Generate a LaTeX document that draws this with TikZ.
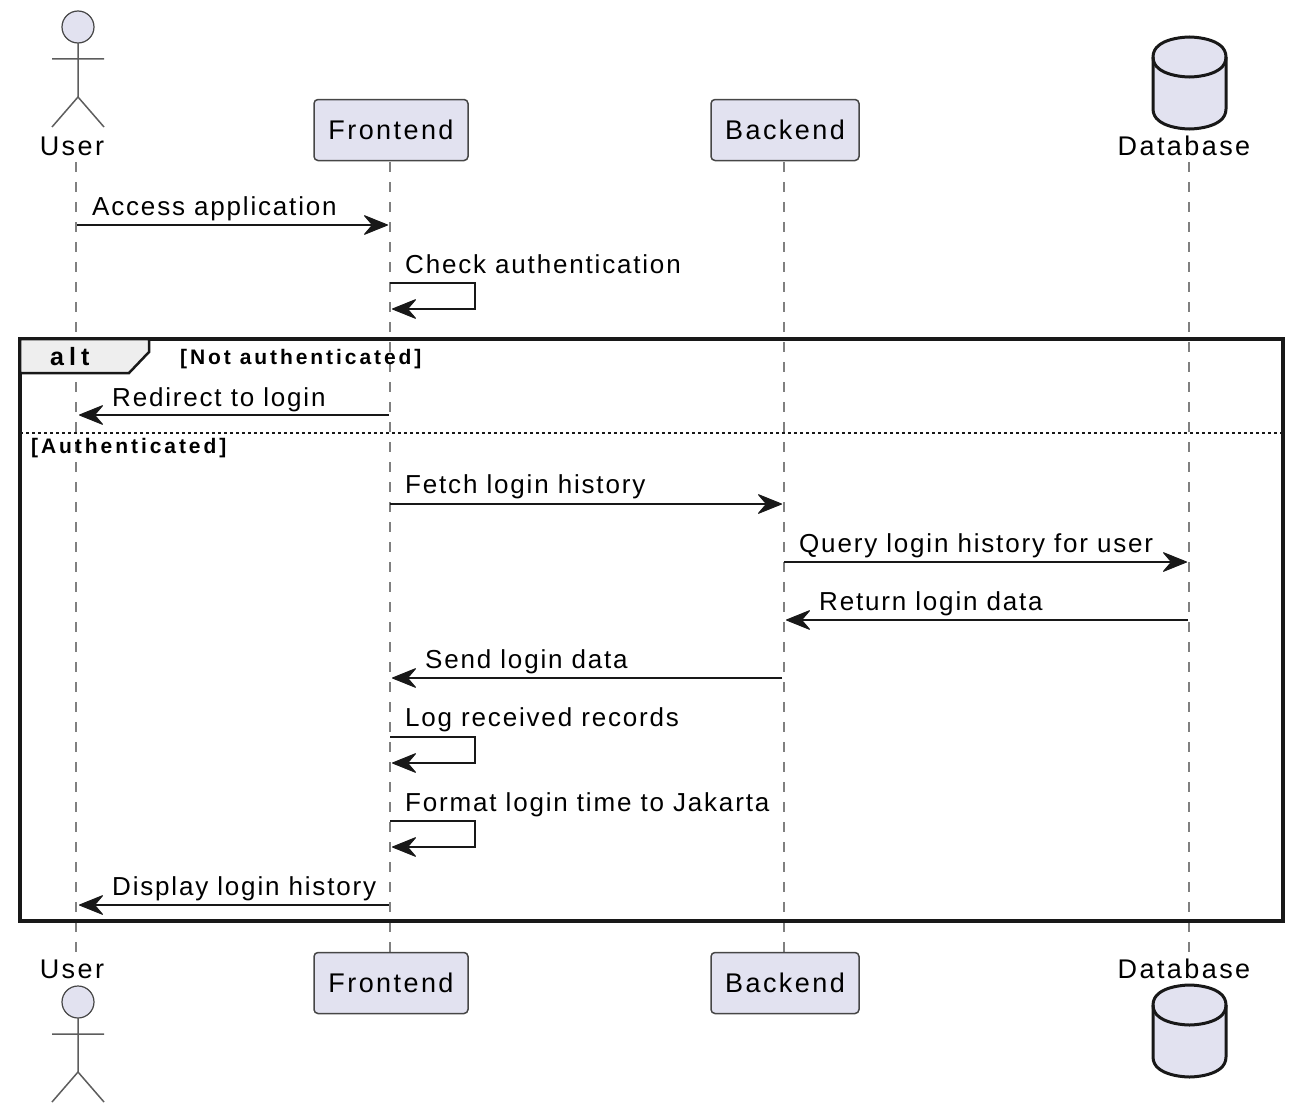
\documentclass[tikz,border=0pt]{standalone}
\usepackage{fontspec}
\setmainfont{Liberation Sans}
\usetikzlibrary{arrows.meta}
\definecolor{partfill}{HTML}{E2E2F0}
\definecolor{inkline}{HTML}{181818}
\definecolor{tabfill}{HTML}{EEEEEE}
\tikzset{
  part/.style={draw=inkline!80, fill=partfill, line width=1.5pt, rounded corners=4pt, minimum height=61pt, inner sep=0pt, font=\fontsize{27}{30}\selectfont\addfontfeature{LetterSpace=9}},
  who/.style={inner sep=0pt, font=\fontsize{27}{30}\selectfont\addfontfeature{LetterSpace=9}},
  msg/.style={line width=2pt, draw=inkline, shorten >=1pt, -{Stealth[length=26pt, width=21pt, inset=9pt, line width=1pt, round]}},
  msgtext/.style={anchor=base west, inner sep=0pt, font=\fontsize{26}{30}\selectfont\addfontfeature{LetterSpace=7}},
  lifeline/.style={draw=inkline!55, line width=1.5pt, dash pattern=on 10pt off 10pt},
  guard/.style={anchor=base west, inner sep=0pt, font=\bfseries\fontsize{21}{24}\selectfont\addfontfeature{LetterSpace=14}},
  actorfig/.pic={
    \draw[fill=partfill, draw=inkline!80, line width=1.2pt] (0,0) circle (16pt);
    \draw[draw=inkline!70, line width=1.5pt] (0,16) -- (0,70) (-26,32) -- (26,32) (-26,100) -- (0,70) -- (26,100);
  },
  dbfig/.pic={
    \draw[fill=partfill, draw=inkline, line width=3pt]
      (-36.5,20) .. controls (-36.5,0) and (0,0) .. (0,0) .. controls (0,0) and (36.5,0) .. (36.5,20)
      -- (36.5,72) .. controls (36.5,92) and (0,92) .. (0,92) .. controls (0,92) and (-36.5,92) .. (-36.5,72) -- cycle;
    \draw[draw=inkline, line width=3pt]
      (-36.5,20) .. controls (-36.5,40) and (0,40) .. (0,40) .. controls (0,40) and (36.5,40) .. (36.5,20);
  }
}
\begin{document}
\begin{tikzpicture}[x=1pt, y=-1pt]
  \useasboundingbox (0,0) rectangle (1296,1116);

  % Lifelines
  \coordinate (userTop) at (76,162);
  \coordinate (userEnd) at (76,953);
  \coordinate (frontTop) at (390,162);
  \coordinate (frontEnd) at (390,953);
  \coordinate (backTop) at (784,162);
  \coordinate (backEnd) at (784,953);
  \coordinate (dataTop) at (1189,162);
  \coordinate (dataEnd) at (1189,953);
  \foreach \who in {user, front, back, data}
    \draw[lifeline] (\who Top) -- (\who End);

  % Participants
  \pic at (78,27) {actorfig};
  \node[who] (userHead) at (72,146) {User};
  \node[part, minimum width=154pt] (frontHead) at (391,130) {Frontend};
  \node[part, minimum width=148pt] (backHead) at (785,130) {Backend};
  \pic at (1189.5,37) {dbfig};
  \node[who] (dataHead) at (1184,146) {Database};

  \pic at (78,1002) {actorfig};
  \node[who] (userFoot) at (72,969) {User};
  \node[part, minimum width=154pt] (frontFoot) at (391,983) {Frontend};
  \node[part, minimum width=148pt] (backFoot) at (785,983) {Backend};
  \pic at (1189.5,985) {dbfig};
  \node[who] (dataFoot) at (1184,969) {Database};

  % Alt frame
  \draw[inkline, line width=3.5pt] (20,339) rectangle (1283,921);
  \draw[inkline, line width=2.5pt, fill=tabfill] (20,339) -- (149,339) -- (149,352) -- (129,373) -- (20,373) -- cycle;
  \node[anchor=base west, inner sep=0pt, font=\bfseries\fontsize{25}{28}\selectfont\addfontfeature{LetterSpace=20}] (altLabel) at (50,365) {alt};
  \node[guard] (guardOne) at (180,364) {[Not authenticated]};
  \coordinate (splitL) at (20,433);
  \coordinate (splitR) at (1283,433);
  \draw[inkline, line width=2pt, dash pattern=on 3pt off 3pt] (splitL) -- (splitR);
  \node[guard] (guardTwo) at (31,453) {[Authenticated]};

  % Messages
  \coordinate (u1) at (77,225);
  \coordinate (f1) at (389,225);
  \draw[msg] (u1) -- (f1);
  \node[msgtext] (m1) at (92,215) {Access application};

  \coordinate (f2) at (390,283);
  \coordinate (f2b) at (391,309);
  \draw[msg] (f2) -- (475,283) -- (475,309) -- (f2b);
  \node[msgtext] (m2) at (405,273) {Check authentication};

  \coordinate (f3) at (389,415);
  \coordinate (u3) at (78,415);
  \draw[msg] (f3) -- (u3);
  \node[msgtext] (m3) at (112,406) {Redirect to login};

  \coordinate (f4) at (390,504);
  \coordinate (b4) at (783,504);
  \draw[msg] (f4) -- (b4);
  \node[msgtext] (m4) at (405,493) {Fetch login history};

  \coordinate (b5) at (784,562);
  \coordinate (d5) at (1188,562);
  \draw[msg] (b5) -- (d5);
  \node[msgtext] (m5) at (799,552) {Query login history for user};

  \coordinate (d6) at (1188,620);
  \coordinate (b6) at (785,620);
  \draw[msg] (d6) -- (b6);
  \node[msgtext] (m6) at (819,610) {Return login data};

  \coordinate (b7) at (782,678);
  \coordinate (f7) at (391,678);
  \draw[msg] (b7) -- (f7);
  \node[msgtext] (m7) at (425,668) {Send login data};

  \coordinate (f8) at (390,737);
  \coordinate (f8b) at (391,763);
  \draw[msg] (f8) -- (475,737) -- (475,763) -- (f8b);
  \node[msgtext] (m8) at (405,726) {Log received records};

  \coordinate (f9) at (390,821);
  \coordinate (f9b) at (391,847);
  \draw[msg] (f9) -- (475,821) -- (475,847) -- (f9b);
  \node[msgtext] (m9) at (405,811) {Format login time to Jakarta};

  \coordinate (f10) at (389,905);
  \coordinate (u10) at (78,905);
  \draw[msg] (f10) -- (u10);
  \node[msgtext] (m10) at (112,895) {Display login history};
\end{tikzpicture}
\end{document}
